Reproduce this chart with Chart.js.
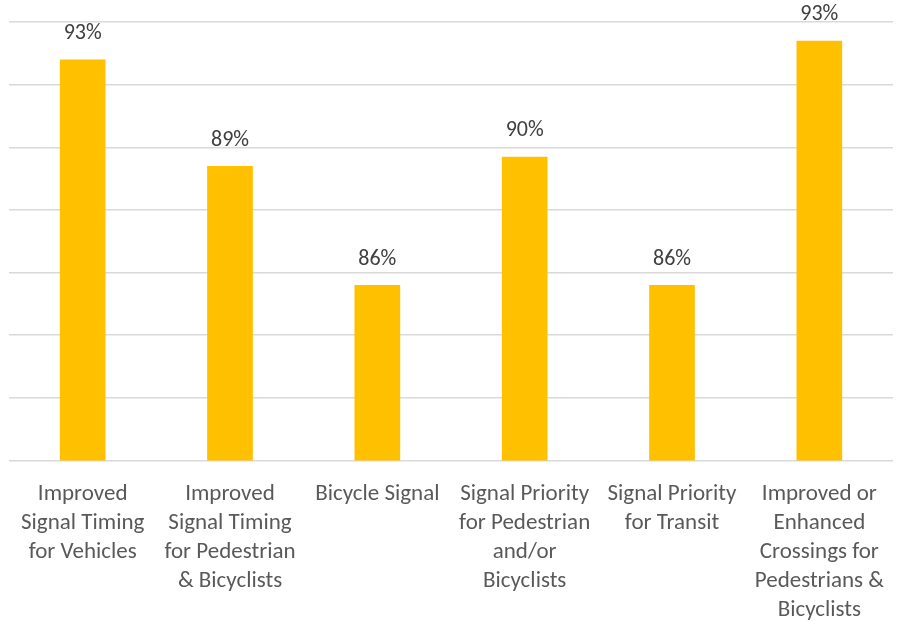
<!DOCTYPE html>
<html>
<head>
<meta charset="utf-8">
<script src="https://cdn.jsdelivr.net/npm/chart.js@4/dist/chart.umd.min.js"></script>
<style>
html,body{margin:0;padding:0;background:#fff;}
#wrap{width:909px;height:624px;position:relative;}
</style>
</head>
<body>
<div id="wrap"><canvas id="c"></canvas></div>
<script>
const categories = [
  ["Improved", "Signal Timing", "for Vehicles"],
  ["Improved", "Signal Timing", "for Pedestrian", "& Bicyclists"],
  ["Bicycle Signal"],
  ["Signal Priority", "for Pedestrian", "and/or", "Bicyclists"],
  ["Signal Priority", "for Transit"],
  ["Improved or", "Enhanced", "Crossings for", "Pedestrians &", "Bicyclists"]
];
const values = [92.8, 89.4, 85.6, 89.7, 85.6, 93.4];
const valueLabels = ["93%", "89%", "86%", "90%", "86%", "93%"];
const yMin = 80, yMax = 94, yStep = 2;

const FONT = 'Carlito, Calibri, Lato, "Open Sans", sans-serif';

const dataLabelPlugin = {
  id: 'dataLabels',
  afterDatasetsDraw(chart) {
    const ctx = chart.ctx;
    const meta = chart.getDatasetMeta(0);
    ctx.save();
    ctx.font = '22px ' + FONT;
    ctx.fillStyle = '#404040';
    ctx.textAlign = 'center';
    ctx.textBaseline = 'middle';
    meta.data.forEach((bar, i) => {
      ctx.fillText(valueLabels[i], bar.x, bar.y - 26);
    });
    ctx.restore();
  }
};

new Chart(document.getElementById('c'), {
  type: 'bar',
  data: {
    labels: categories,
    datasets: [{
      data: values,
      backgroundColor: '#FFC000',
      borderWidth: 0,
      categoryPercentage: 1,
      barPercentage: 0.31
    }]
  },
  options: {
    responsive: true,
    maintainAspectRatio: false,
    animation: false,
    layout: { padding: { left: 9, right: 16, top: 22, bottom: 0 } },
    plugins: { legend: { display: false }, tooltip: { enabled: false } },
    scales: {
      x: {
        grid: { display: false },
        border: { display: false },
        ticks: {
          color: '#595959',
          font: { family: FONT, size: 23, lineHeight: 1.26 },
          maxRotation: 0, minRotation: 0, autoSkip: false, padding: 11
        },
        afterFit(scale) { scale.height = 163.5; }
      },
      y: {
        min: yMin, max: yMax,
        ticks: { display: false, stepSize: yStep },
        grid: { color: '#d9d9d9', lineWidth: 1.5, drawTicks: false },
        border: { display: false },
        afterFit(scale) { scale.width = 0; }
      }
    }
  },
  plugins: [dataLabelPlugin]
});
</script>
</body>
</html>
